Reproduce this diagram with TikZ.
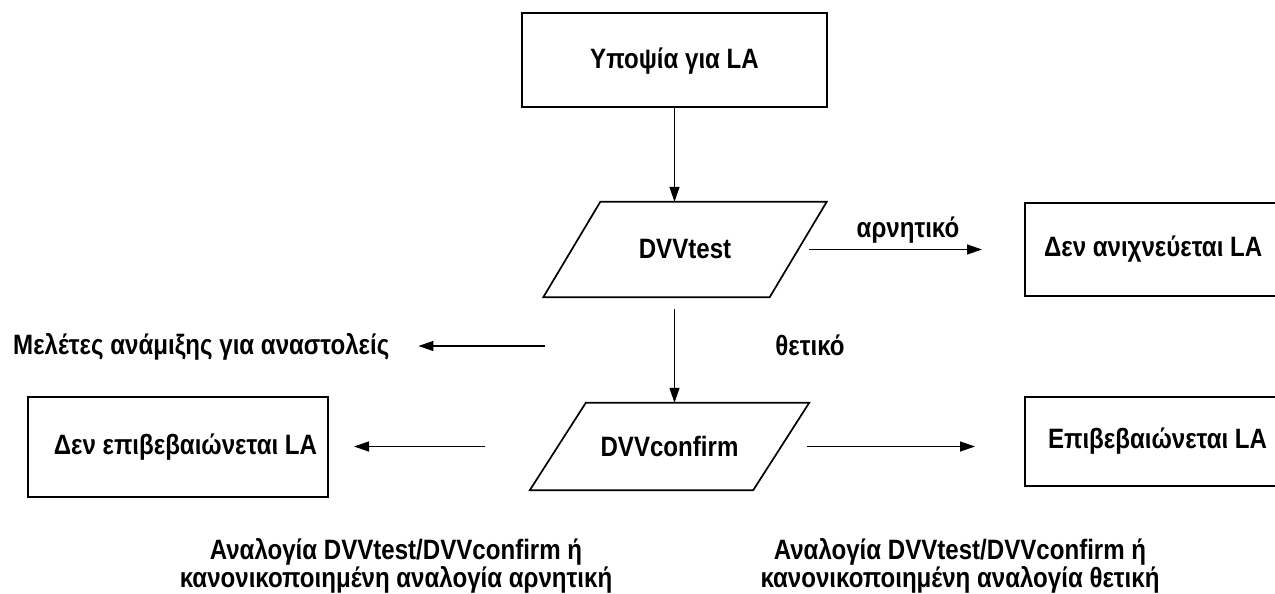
\documentclass[tikz,border=0pt]{standalone}
\usepackage{fontspec}
\setmainfont{Liberation Sans}[FakeStretch=0.86]
\usetikzlibrary{arrows.meta,calc}
\begin{document}
\begin{tikzpicture}[x=1pt,y=-1pt,
  lbl/.style={font=\fontsize{28}{28}\selectfont\bfseries, inner sep=0pt},
  boxnode/.style={lbl, draw, line width=2pt},
  para/.style={draw, line width=1.7pt, line join=miter},
  arr/.style={-{Triangle[length=15pt,width=10pt]}, line width=1.3pt}]
\useasboundingbox (0,0) rectangle (1275,594);

\node[boxnode, minimum width=305, minimum height=94, text depth=3pt] (top) at (674.5,60) {Υποψία για LA};

\node[lbl, minimum width=226, minimum height=95] (t) at (685,249.5) {DVVtest};
\draw[para] ($(t.north west)+(28.5,0)$) -- ($(t.north east)+(28.5,0)$) -- ($(t.south east)+(-28.5,0)$) -- ($(t.south west)+(-28.5,0)$) -- cycle;

\node[lbl, minimum width=223, minimum height=87] (c) at (669.5,446.5) {DVVconfirm};
\draw[para] ($(c.north west)+(28,0)$) -- ($(c.north east)+(28,0)$) -- ($(c.south east)+(-28,0)$) -- ($(c.south west)+(-28,0)$) -- cycle;

\node[boxnode, anchor=west, minimum height=93, text width=262, align=flush left, inner xsep=19] (r1) at (1024,249.5) {Δεν ανιχνεύεται LA};
\node[boxnode, anchor=west, minimum height=89, text width=254, align=flush left, inner xsep=23] (r2) at (1024,441.5) {Επιβεβαιώνεται LA};
\node[boxnode, minimum height=100, text width=278, align=flush right, inner xsep=11] (l) at (178,447) {Δεν επιβεβαιώνεται LA};

\node[lbl, anchor=west] (mel) at (13,347) {Μελέτες ανάμιξης για αναστολείς};
\coordinate (m0) at (545,346);

\node[lbl] (neg) at (908,230) {αρνητικό};
\node[lbl] (pos) at (810,345) {θετικό};

\node[lbl, align=center] (bl) at (396,566) {Αναλογία DVVtest/DVVconfirm ή\\κανονικοποιημένη αναλογία αρνητική};
\node[lbl, align=center] (br) at (960,566) {Αναλογία DVVtest/DVVconfirm ή\\κανονικοποιημένη αναλογία θετική};

\draw[arr] (top.south) -- (top.south |- t.north);
\draw[arr, shorten <=12pt] (top.south |- t.south) -- (top.south |- c.north);
\draw[arr, shorten <=11pt, shorten >=42pt] (t.east) -- (t.east -| r1.west);
\draw[arr, shorten >=29pt] (m0) -- (m0 -| mel.east);
\draw[arr, shorten <=73pt, shorten >=25pt] (c.west) -- (c.west -| l.east);
\draw[arr, shorten <=26pt, shorten >=49pt] (c.east) -- (c.east -| r2.west);
\end{tikzpicture}
\end{document}
